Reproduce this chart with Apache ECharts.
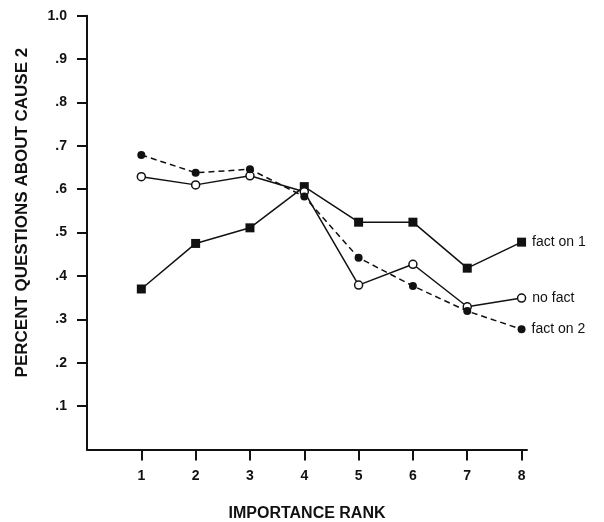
<!DOCTYPE html>
<html>
<head>
<meta charset="utf-8">
<script src="https://cdn.jsdelivr.net/npm/echarts@6/dist/echarts.min.js"></script>
<style>html,body{margin:0;padding:0;background:#fff;}#c{width:604px;height:522px;}</style>
</head>
<body>
<div id="c"></div>
<script>
const ranks = [1, 2, 3, 4, 5, 6, 7, 8];
const factOn1 = [0.370, 0.475, 0.511, 0.606, 0.524, 0.524, 0.418, 0.478];
const noFact  = [0.629, 0.610, 0.631, 0.594, 0.379, 0.427, 0.329, 0.349];
const factOn2 = [0.679, 0.638, 0.646, 0.583, 0.442, 0.377, 0.319, 0.277];
const yTicks = [0.1, 0.2, 0.3, 0.4, 0.5, 0.6, 0.7, 0.8, 0.9, 1.0];
const seriesNames = ['fact on 1', 'no fact', 'fact on 2'];

const ink = '#111';
const font = '"Liberation Sans", Arial, sans-serif';

function mkData(vals, name) {
  return vals.map((v, i) => {
    const d = { value: [ranks[i], v] };
    if (i === vals.length - 1) {
      d.label = { show: true, formatter: name, position: 'right', distance: 6,
        color: ink, fontFamily: font, fontSize: 14 };
    }
    return d;
  });
}

const chart = echarts.init(document.getElementById('c'), null, { renderer: 'canvas' });
chart.setOption({
  animation: false,
  backgroundColor: '#fff',
  grid: { left: 87, right: 77, top: 15.7, bottom: 72.5, containLabel: false, outerBoundsMode: 'none' },
  xAxis: {
    type: 'value', min: 0, max: 8.1,
    name: 'IMPORTANCE RANK', nameLocation: 'middle', nameGap: 56,
    nameTextStyle: { color: ink, fontFamily: font, fontWeight: 'bold', fontSize: 16 },
    axisLine: { show: true, lineStyle: { color: ink, width: 2 } },
    axisTick: { show: true, customValues: ranks, length: 11, lineStyle: { color: ink, width: 2 } },
    axisLabel: { customValues: ranks, margin: 20, color: ink, fontFamily: font, fontWeight: 'bold', fontSize: 14 },
    splitLine: { show: false }
  },
  yAxis: {
    type: 'value', min: 0, max: 1.0, interval: 0.1,
    name: 'PERCENT QUESTIONS ABOUT CAUSE 2', nameLocation: 'middle', nameGap: 56,
    nameTextStyle: { color: ink, fontFamily: font, fontWeight: 'bold', fontSize: 17, padding: [0, 0, 0, 40] },
    axisLine: { show: true, lineStyle: { color: ink, width: 2 } },
    axisTick: { show: true, customValues: yTicks, length: 10, lineStyle: { color: ink, width: 2 } },
    axisLabel: { customValues: yTicks, margin: 20, color: ink, fontFamily: font, fontWeight: 'bold', fontSize: 14,
      formatter: v => (Math.abs(v - 1) < 1e-9 ? '1.0' : ('.' + Math.round(v * 10))) },
    splitLine: { show: false }
  },
  series: [
    { name: seriesNames[0], type: 'line', data: mkData(factOn1, seriesNames[0]),
      symbol: 'rect', symbolSize: 9, lineStyle: { color: ink, width: 1.5 },
      itemStyle: { color: ink, borderWidth: 0 } },
    { name: seriesNames[1], type: 'line', data: mkData(noFact, seriesNames[1]),
      symbol: 'circle', symbolSize: 8, lineStyle: { color: ink, width: 1.5 },
      itemStyle: { color: '#fff', borderColor: ink, borderWidth: 1.5 } },
    { name: seriesNames[2], type: 'line', data: mkData(factOn2, seriesNames[2]),
      symbol: 'circle', symbolSize: 8, lineStyle: { color: ink, width: 1.5, type: [6, 4] },
      itemStyle: { color: ink, borderWidth: 0 } }
  ]
});
</script>
</body>
</html>
